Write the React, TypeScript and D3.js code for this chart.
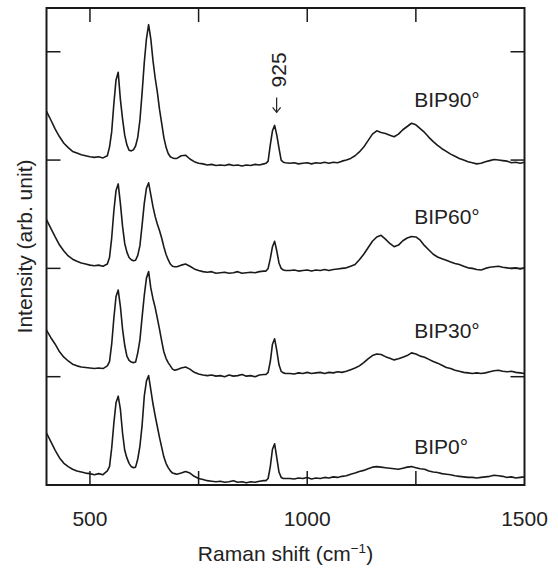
import React from "react";
import * as d3 from "d3";

// Raman shift grid (cm^-1)
const ramanShift = [
  400, 410, 420, 430, 440, 450, 460, 470, 480, 490, 500, 510, 520, 530, 540,
  545, 550, 555, 560, 565, 570, 575, 580, 585, 590, 595, 600, 605, 610, 615, 620,
  625, 630, 635, 640, 645, 650, 655, 660, 665, 670, 675, 680, 685, 690, 695, 700,
  710, 720, 730, 740, 750, 760, 770, 780, 790, 800, 810, 820, 830, 840, 850, 860, 870, 880, 890, 900,
  905, 910, 915, 920, 925, 930, 935, 940, 945, 950,
  960, 970, 980, 990, 1000, 1010, 1020, 1030, 1040, 1050,
  1060, 1070, 1080, 1090, 1100, 1110, 1120, 1130, 1140, 1150,
  1160, 1170, 1180, 1190, 1200, 1210, 1220, 1230, 1240, 1250,
  1260, 1270, 1280, 1290, 1300, 1310, 1320, 1330, 1340, 1350,
  1360, 1370, 1380, 1390, 1400, 1410, 1420, 1430, 1440, 1450,
  1460, 1470, 1480, 1490, 1500,
];

const bip0 = [
  48, 40, 32, 25, 20, 17, 14.5, 13, 12, 11, 10.5, 9.5, 10.5, 9.5, 13,
  17, 34, 57, 76, 82, 70, 48, 32, 25, 20, 17, 16, 16.5, 24, 36, 55,
  82, 96, 101, 88, 75, 64, 54, 44, 35, 26, 20, 16, 13, 11, 10.5, 10,
  11, 12.5, 11, 8, 6, 5, 4, 3.5, 3, 3.5, 2.5, 3, 4, 2.5, 3, 2, 3, 2.5, 3.5, 4,
  4, 6, 17, 33, 38, 25, 12, 7, 6, 6,
  6, 5.5, 6.5, 6, 7, 5.5, 6.5, 6, 7, 6.5,
  7.5, 7, 8, 8.5, 10, 11, 12.5, 13.5, 15, 16.5,
  17, 16.5, 16, 15.5, 15, 14.5, 15.5, 16.5, 17, 16,
  15, 14.5, 13, 12, 11.5, 10.5, 10, 9.5, 8.5, 8,
  7.5, 7, 7, 6.5, 7, 7.5, 8, 9, 8.5, 8,
  7, 7.5, 6.5, 7, 7.5,
];

const bip30 = [
  43, 36, 30, 23, 18, 14.5, 11.5, 10, 9, 8.5, 8, 7.5, 8, 7.5, 10,
  14, 30, 54, 74, 80, 65, 44, 29, 19, 15, 13.5, 13, 13.5, 22, 34, 55,
  75, 91, 97, 82, 72, 64, 54, 44, 33, 23, 17, 13, 10, 7, 6, 6.5,
  8, 9, 7, 4, 2.5, 1.5, 1, 1.5, 0.5, 1, 0, 1.5, 0.5, 1, 2, 0.5, 1, 0, 1.5, 2,
  2, 4, 14, 30, 35, 24, 11, 5, 3.5, 3,
  3, 2.5, 3.5, 3, 4, 3, 3.5, 4, 3, 4,
  3.5, 4.5, 4, 5, 6.5, 8, 10, 13, 16.5, 19.5,
  21, 20.5, 18.5, 17, 15.5, 16.5, 18, 19.5, 22, 21,
  19, 18, 16, 14, 12.5, 10.5, 8.5, 7.5, 6, 5,
  4, 3.5, 3, 3.5, 3, 3.5, 4.5, 5.5, 6, 5,
  4.5, 5, 4, 3.5, 3,
];

const bip60 = [
  45, 37, 29, 21.5, 16, 11.5, 8.5, 6.5, 5, 4, 3, 2.5, 3, 2, 4,
  10, 28, 53, 72, 78, 60, 39, 23, 15, 10, 8, 7, 7.5, 12, 21, 40,
  60, 74, 79, 68, 57, 48, 41, 35, 28, 20, 13, 8, 4, 2, 1.5, 1.5,
  3, 4, 2, -0.5, -2, -3, -3.5, -3, -4.5, -4, -3.5, -4.5, -4, -3, -4.5, -4, -3.5, -4, -3, -2.5,
  -2.5, 0, 9, 20, 25, 16, 5, 0, -1.5, -2,
  -2, -1.5, -2.5, -2, -1.5, -2.5, -1.5, -2, -1, -2,
  -1, -0.5, 0, 0.5, 2, 3.5, 8, 13, 19, 25,
  29, 30.5, 27, 23, 20, 21.5, 25.5, 28, 29.5, 29,
  26, 21, 17, 13, 10.5, 9, 7.5, 6, 4.5, 3.5,
  2, 0.5, 0, -1, -1.5, 0, 1, 1.5, 2, 1,
  0.5, 0, 0.5, -0.5, 0.5,
];

const bip90 = [
  45, 37, 28.5, 21.5, 15.5, 11.5, 8, 6.5, 5, 4, 3, 2.5, 3, 2, 4,
  12, 26, 52, 74, 81, 56, 38, 23, 14, 9, 8.5, 9.5, 13, 21, 37, 62,
  90, 112, 125, 112, 92, 76, 63, 47, 34, 21, 12, 6, 3, 2, 1.5, 1.5,
  4, 4.5, 1, -1.5, -3, -3.5, -4.5, -4, -5, -4.5, -5, -4, -5, -4.5, -5.5, -4.5, -5, -4, -4.5, -3.5,
  -3, -1, 14, 27, 32, 23, 11, 0, -2, -2.5,
  -3, -2.5, -3.5, -3, -2.5, -3.5, -2.5, -3, -2, -3,
  -2, -2.5, -1, 0, 1.5, 4, 7.5, 12, 18, 24,
  27, 25.5, 24.5, 23, 21.5, 24, 28, 31, 34, 32.5,
  29, 25.5, 21, 17, 13.5, 10.5, 8, 5.5, 3.5, 1.5,
  0, -1.5, -2.5, -3.5, -3, -1.5, -0.5, 0.5, 0, -0.5,
  -1, -2.5, -2, -3, -2,
];

const seriesNames = ["BIP0°", "BIP30°", "BIP60°", "BIP90°"];
const seriesValues = [bip0, bip30, bip60, bip90];
const seriesOffsets = [0, 100, 200, 300];

const xTickValues = [500, 750, 1000, 1250];
const xTickLabels = [500, 1000, 1500];
const yTickValues = [100, 200, 300, 400];

const annotationShift = 925;

export default function App() {
  const W = 558;
  const H = 568;
  const left = 46.5;
  const right = 524.5;
  const top = 8;
  const bottom = 485;
  const font = "'Liberation Sans', Arial, Helvetica, sans-serif";
  const fs = 21;
  const tickLen = 14;
  const labelLift = [29, 35.5, 41, 49];
  const labelShift = 1246;

  const x = d3.scaleLinear().domain([400, 1500]).range([left, right]);
  const y = d3.scaleLinear().domain([0, 440.4]).range([bottom, top]);

  const line = d3
    .line<number>()
    .x((_, i) => x(ramanShift[i]))
    .y((d) => y(d))
    .curve(d3.curveLinear);

  const annIdx = ramanShift.indexOf(annotationShift);
  const peakY = y(bip90[annIdx] + seriesOffsets[3]);
  const arrowX = x(annotationShift) + 2;
  const arrowBottom = peakY - 13;
  const arrowTop = peakY - 28;
  const textBase = x(annotationShift) + 11.5;
  const textStart = peakY - 38;

  return (
    <svg
      width={W}
      height={H}
      style={{ position: "absolute", left: 0, top: 0, background: "#fff" }}
      fontFamily={font}
    >
      <rect x={0} y={0} width={W} height={H} fill="#fff" />
      {seriesValues.map((vals, s) => (
        <path
          key={s}
          d={line(vals.map((v) => v + seriesOffsets[s])) || ""}
          fill="none"
          stroke="#1a1a1a"
          strokeWidth={1.6}
          strokeLinejoin="round"
        />
      ))}
      {/* x ticks */}
      {xTickValues.map((t) => (
        <g key={"xt" + t} stroke="#1a1a1a" strokeWidth={1.5}>
          <line x1={x(t)} x2={x(t)} y1={bottom} y2={bottom - tickLen} />
          <line x1={x(t)} x2={x(t)} y1={top} y2={top + tickLen} />
        </g>
      ))}
      {/* y ticks */}
      {yTickValues.map((t) => (
        <g key={"yt" + t} stroke="#1a1a1a" strokeWidth={1.5}>
          <line x1={left} x2={left + tickLen} y1={y(t)} y2={y(t)} />
          <line x1={right} x2={right - tickLen} y1={y(t)} y2={y(t)} />
        </g>
      ))}
      <rect
        x={left}
        y={top}
        width={right - left}
        height={bottom - top}
        fill="none"
        stroke="#1a1a1a"
        strokeWidth={2}
      />
      {xTickLabels.map((t) => (
        <text
          key={"xl" + t}
          x={x(t)}
          y={525.5}
          textAnchor="middle"
          fontSize={fs}
          fill="#222"
        >
          {t}
        </text>
      ))}
      <text x={(left + right) / 2} y={561} textAnchor="middle" fontSize={fs} fill="#222">
        Raman shift (cm
        <tspan fontSize={13.5} dy={-8}>
          −1
        </tspan>
        <tspan dy={8}>)</tspan>
      </text>
      <text
        transform={`translate(31.5,${(top + bottom) / 2}) rotate(-90)`}
        textAnchor="middle"
        fontSize={fs}
        fill="#222"
      >
        Intensity (arb. unit)
      </text>
      {seriesNames.map((n, s) => (
        <text
          key={n}
          x={x(labelShift)}
          y={y(seriesOffsets[s] + labelLift[s])}
          fontSize={fs}
          fill="#222"
        >
          {n}
        </text>
      ))}
      {/* annotation arrow */}
      <g stroke="#222" strokeWidth={1.2} fill="none">
        <line x1={arrowX} x2={arrowX} y1={arrowTop} y2={arrowBottom} />
        <path
          d={`M${arrowX - 4},${arrowBottom - 5} L${arrowX},${arrowBottom} L${arrowX + 4},${arrowBottom - 5}`}
        />
      </g>
      <text
        transform={`translate(${textBase},${textStart}) rotate(-90)`}
        textAnchor="start"
        fontSize={fs}
        fill="#222"
      >
        {annotationShift}
      </text>
    </svg>
  );
}
